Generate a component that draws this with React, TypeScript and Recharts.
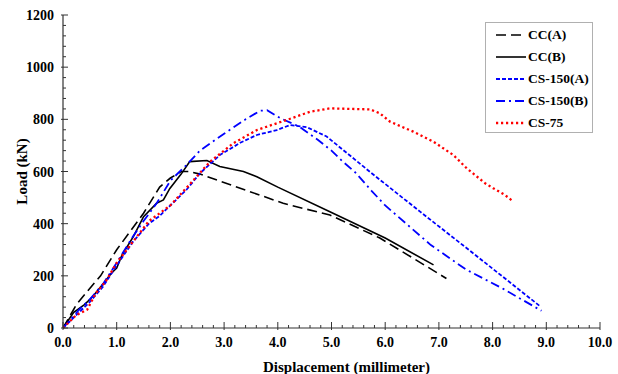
import { LineChart, Line, XAxis, YAxis } from 'recharts';

// displacement (mm) and load (kN) for each specimen
const ccAX = [0, 0.25, 0.45, 0.7, 1.0, 1.25, 1.5, 1.8, 2.0, 2.2, 2.35, 2.55, 3.3, 4.1, 4.97, 5.9, 7.14];
const ccALoad = [0, 90, 140, 200, 300, 370, 440, 540, 575, 600, 600, 590, 536, 478, 433, 345, 190];

const ccBX = [0, 0.2, 0.4, 0.55, 0.75, 0.9, 1.0, 1.1, 1.31, 1.5, 1.74, 1.87, 1.99, 2.2, 2.36, 2.68, 2.92, 3.36, 3.61, 4.0, 4.97, 6.0, 6.9];
const ccBLoad = [0, 60, 90, 120, 170, 210, 230, 280, 350, 427, 478, 491, 535, 590, 638, 642, 619, 600, 580, 540, 446, 345, 242];

const cs150AX = [0, 0.3, 0.5, 0.75, 1.0, 1.3, 1.6, 1.8, 2.0, 2.3, 2.55, 2.92, 3.3, 3.61, 3.98, 4.23, 4.54, 4.91, 5.72, 6.65, 7.58, 8.88];
const cs150ALoad = [0, 60, 100, 160, 240, 330, 400, 430, 470, 530, 593, 663, 710, 740, 759, 778, 770, 734, 598, 446, 296, 84];

const cs150BX = [0, 0.3, 0.5, 0.75, 1.0, 1.3, 1.5, 1.75, 2.0, 2.3, 2.55, 3.0, 3.4, 3.67, 3.8, 4.05, 4.4, 4.75, 5.0, 5.2, 5.45, 5.75, 6.0, 6.85, 7.5, 8.2, 8.91];
const cs150BLoad = [0, 70, 110, 170, 250, 350, 410, 480, 565, 625, 680, 745, 800, 833, 835, 804, 772, 721, 680, 640, 595, 525, 470, 318, 225, 150, 66];

const cs75X = [0, 0.25, 0.45, 0.6, 0.8, 1.0, 1.3, 1.6, 2.0, 2.4, 2.74, 3.17, 3.61, 4.17, 4.6, 4.97, 5.72, 5.9, 6.09, 6.52, 6.9, 7.27, 7.52, 7.86, 8.01, 8.23, 8.39];
const cs75Load = [0, 50, 70, 130, 180, 250, 330, 410, 470, 560, 638, 708, 759, 798, 829, 842, 838, 823, 791, 753, 714, 663, 612, 555, 536, 510, 484];

const xTicks = Array.from({ length: 51 }, (_, i) => i / 5);
const yTicks = Array.from({ length: 31 }, (_, i) => i * 40);

const toPoints = (xs: number[], ys: number[]) => xs.map((x, i) => ({ x, y: ys[i] }));

const series = [
  { name: 'CC(A)', data: toPoints(ccAX, ccALoad), color: '#000000', dash: '10 5', width: 1.6 },
  { name: 'CC(B)', data: toPoints(ccBX, ccBLoad), color: '#000000', dash: undefined, width: 1.6 },
  { name: 'CS-150(A)', data: toPoints(cs150AX, cs150ALoad), color: '#0000ff', dash: '4 2', width: 1.8 },
  { name: 'CS-150(B)', data: toPoints(cs150BX, cs150BLoad), color: '#0000ff', dash: '9 4 2 4', width: 1.8 },
  { name: 'CS-75', data: toPoints(cs75X, cs75Load), color: '#ff0000', dash: '2.2 2.8', width: 2.3 },
];

const font = '"Liberation Serif", "Times New Roman", serif';
const axisColor = '#333333';

const XTick = (props: any) => {
  const { x, y, payload } = props;
  const v = payload.value as number;
  const major = Math.abs(v - Math.round(v)) < 1e-6;
  return (
    <g>
      <line x1={x} x2={x} y1={major ? y + 2 : y} y2={y - (major ? 6 : 3)} stroke={axisColor} />
      {major && (
        <text x={x} y={y + 19} textAnchor="middle" fontFamily={font} fontWeight="bold" fontSize={14} fill="#000">
          {v.toFixed(1)}
        </text>
      )}
    </g>
  );
};

const YTick = (props: any) => {
  const { x, y, payload } = props;
  const v = payload.value as number;
  const major = v % 200 === 0;
  return (
    <g>
      <line x1={major ? x - 2 : x} x2={x + (major ? 5 : 3)} y1={y} y2={y} stroke={axisColor} />
      {major && (
        <text x={x - 9} y={y + 5} textAnchor="end" fontFamily={font} fontWeight="bold" fontSize={14} fill="#000">
          {v}
        </text>
      )}
    </g>
  );
};

export default function App() {
  return (
    <div style={{ position: 'absolute', left: 0, top: 0, width: 618, height: 374, background: '#fff' }}>
      <LineChart width={618} height={374} margin={{ top: 15, right: 18, left: 0, bottom: 0 }}>
        <XAxis
          type="number"
          dataKey="x"
          domain={[0, 10]}
          ticks={xTicks}
          interval={0}
          tickSize={0}
          tickMargin={0}
          tick={<XTick />}
          height={46}
          axisLine={{ stroke: axisColor, strokeWidth: 1.2 }}
          tickLine={false}
          allowDataOverflow
          label={{ value: 'Displacement (millimeter)', position: 'center', dx: 15, dy: 16, fontFamily: font, fontWeight: 'bold', fontSize: 15, fill: '#000' }}
        />
        <XAxis xAxisId="top" orientation="top" type="number" domain={[0, 10]} height={0} tick={false} tickLine={false} axisLine={{ stroke: '#8c8c8c', strokeWidth: 1.6 }} />
        <YAxis
          type="number"
          domain={[0, 1200]}
          ticks={yTicks}
          interval={0}
          tickSize={0}
          tickMargin={0}
          tick={<YTick />}
          width={63}
          axisLine={{ stroke: axisColor, strokeWidth: 1.2 }}
          tickLine={false}
          label={{ value: 'Load (kN)', angle: -90, position: 'center', dx: -10, fontFamily: font, fontWeight: 'bold', fontSize: 15, fill: '#000' }}
        />
        <YAxis yAxisId="right" orientation="right" type="number" domain={[0, 1200]} width={0} tick={false} tickLine={false} axisLine={{ stroke: '#8c8c8c', strokeWidth: 1.6 }} />
        {series.map((s) => (
          <Line
            key={s.name}
            data={s.data}
            dataKey="y"
            name={s.name}
            type="linear"
            stroke={s.color}
            strokeWidth={s.width}
            strokeDasharray={s.dash}
            dot={false}
            activeDot={false}
            isAnimationActive={false}
          />
        ))}
      </LineChart>
      <div
        style={{
          position: 'absolute',
          left: 485,
          top: 22,
          width: 108,
          height: 111,
          boxSizing: 'border-box',
          border: '1px solid #b0b0b0',
          background: '#fff',
          paddingTop: 1,
        }}
      >
        {series.map((s) => (
          <div key={s.name} style={{ display: 'flex', alignItems: 'center', height: 22 }}>
            <svg width={42} height={22} style={{ display: 'block' }}>
              <line x1={10} x2={40} y1={11} y2={11} stroke={s.color} strokeWidth={s.width} strokeDasharray={s.dash} />
            </svg>
            <span style={{ fontFamily: font, fontWeight: 'bold', fontSize: 13.5, color: '#000', whiteSpace: 'nowrap' }}>{s.name}</span>
          </div>
        ))}
      </div>
    </div>
  );
}
